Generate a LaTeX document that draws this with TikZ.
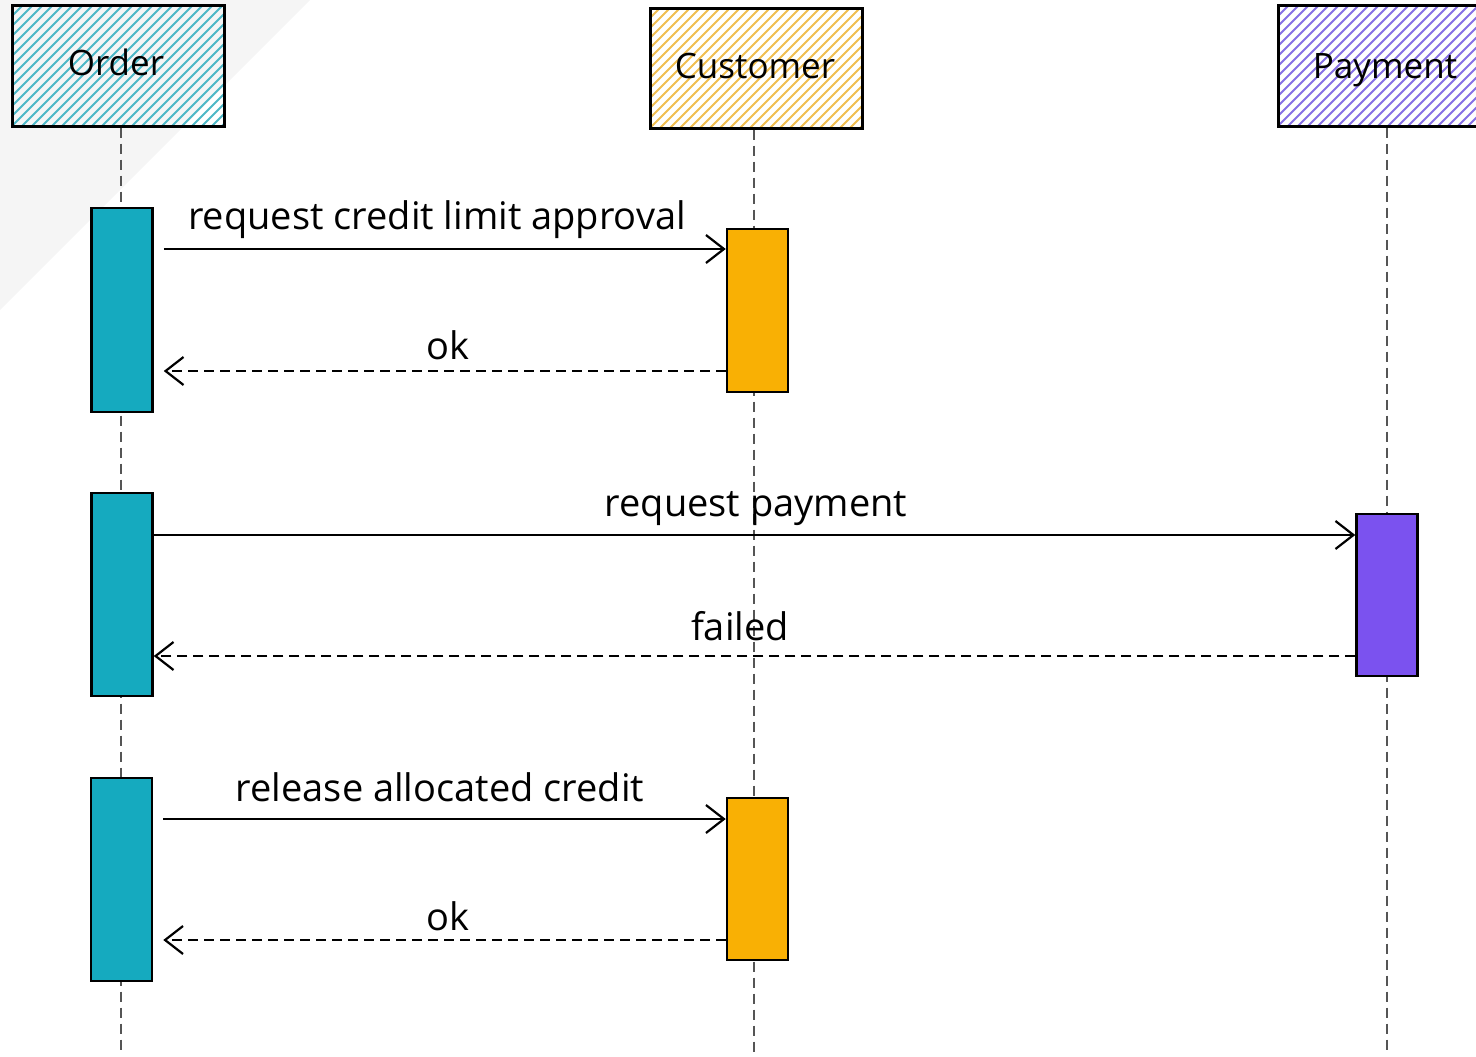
\documentclass[tikz,border=0pt]{standalone}
\usepackage{fontspec}
\setmainfont{Open Sans}
\usetikzlibrary{arrows.meta}
\definecolor{teal}{HTML}{15AABF}
\definecolor{tealhatch}{HTML}{4DB8C6}
\definecolor{orng}{HTML}{F9B004}
\definecolor{orhatch}{HTML}{F0BE50}
\definecolor{purp}{HTML}{7B52EF}
\definecolor{puhatch}{HTML}{8770E4}
\definecolor{life}{HTML}{555555}
\definecolor{bgtri}{HTML}{F5F5F5}
\tikzset{
  x=1pt,y=-1pt,
  head/.style={draw=black,line width=3pt,rectangle,inner sep=0pt,minimum width=212pt,minimum height=120pt},
  bar/.style={draw=black,line width=2.5pt,rectangle,inner sep=0pt,minimum width=61pt},
  lifeline/.style={draw=life,line width=2pt,dash pattern=on 10pt off 6pt},
  msg/.style={draw=black,line width=2.2pt,-{Straight Barb[length=18pt,width=28pt,line width=2.2pt]}},
  reply/.style={msg,dash pattern=on 10pt off 6pt},
  lbl/.style={anchor=base,inner sep=0pt,font=\fontsize{38}{42}\selectfont},
  hlbl/.style={anchor=base,inner sep=0pt,font=\fontsize{35}{40}\selectfont}
}
\newcommand{\hatchbox}[5]{% x1,y1,x2,y2,color
  \begin{scope}
    \clip (#1,#2) rectangle (#3,#4);
    \foreach \k in {-200,-190,...,300}{
      \draw[#5,line width=1.9pt] (#1+\k,#4) -- (#1+\k+130,#4-130);
    }
  \end{scope}
}
\begin{document}
\begin{tikzpicture}
\useasboundingbox (0,0) rectangle (1476,1057);
\fill[bgtri] (0,0) -- (310,0) -- (0,310) -- cycle;

% hatching
\hatchbox{12}{6}{224}{126}{tealhatch}
\hatchbox{650}{9}{862}{128}{orhatch}
\hatchbox{1278}{6}{1490}{126}{puhatch}

% headers
\node[head] (order) at (118,66) {};
\node[head,minimum height=119pt] (cust) at (756,68.5) {};
\node[head] (pay) at (1384,66) {};
\node[hlbl] (ordert) at (116,76) {Order};
\node[hlbl] (custt) at (755,78) {Customer};
\node[hlbl] (payt) at (1385,78) {Payment};

% lifelines
\coordinate (oend) at (121,1052);
\coordinate (cend) at (754,1052);
\coordinate (pend) at (1387,1052);
\draw[lifeline] (order.south -| oend) -- (oend);
\draw[lifeline] (cust.south -| cend) -- (cend);
\draw[lifeline] (pay.south -| pend) -- (pend);

% activation bars
\node[bar,fill=teal,minimum height=204pt] (o1) at (122,310) {};
\node[bar,fill=teal,minimum height=203pt] (o2) at (122,594.5) {};
\node[bar,fill=teal,minimum height=203pt] (o3) at (121.5,879.5) {};
\node[bar,fill=orng,minimum height=163pt] (c1) at (757.5,310.5) {};
\node[bar,fill=orng,minimum height=162pt] (c2) at (757.5,879) {};
\node[bar,fill=purp,minimum height=162pt] (p1) at (1387,595) {};

% message rows
\coordinate (r1) at (0,249);
\coordinate (r2) at (0,371);
\coordinate (r3) at (0,535);
\coordinate (r4) at (0,656);
\coordinate (r5) at (0,819);
\coordinate (r6) at (0,940);

\draw[msg] ([xshift=10pt]o1.east |- r1) -- (c1.west |- r1);
\draw[reply] (c1.west |- r2) -- ([xshift=10pt]o1.east |- r2);
\draw[msg] (o2.east |- r3) -- (p1.west |- r3);
\draw[reply] (p1.west |- r4) -- (o2.east |- r4);
\draw[msg] ([xshift=10pt]o3.east |- r5) -- (c2.west |- r5);
\draw[reply] (c2.west |- r6) -- ([xshift=10pt]o3.east |- r6);

% labels
\node[lbl] (l1) at (437,229) {request credit limit approval};
\node[lbl] (l2) at (448,359) {ok};
\node[lbl] (l3) at (756,516) {request payment};
\node[lbl] (l4) at (740,640) {failed};
\node[lbl] (l5) at (440,801) {release allocated credit};
\node[lbl] (l6) at (448,930) {ok};
\end{tikzpicture}
\end{document}
